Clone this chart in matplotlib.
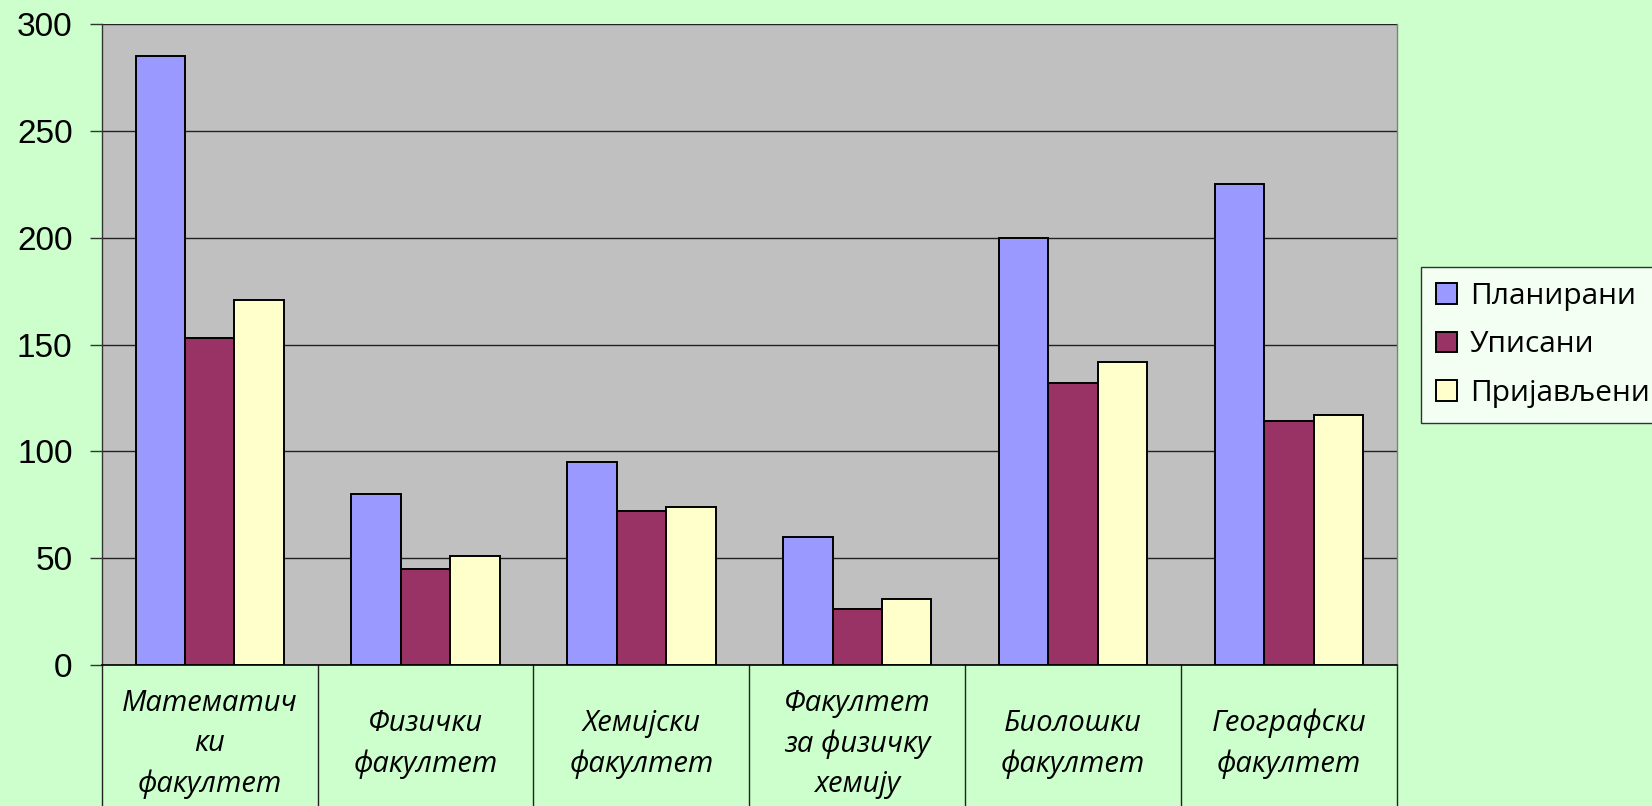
import numpy as np
import matplotlib
matplotlib.use("Agg")
import matplotlib.pyplot as plt
import matplotlib.transforms as mtransforms

# data
faculties = ["Математич\nки\nфакултет", "Физички\nфакултет", "Хемијски\nфакултет",
             "Факултет\nза физичку\nхемију", "Биолошки\nфакултет", "Географски\nфакултет"]
planirani = [285, 80, 95, 60, 200, 225]
upisani = [153, 45, 72, 26, 132, 114]
prijavljeni = [171, 51, 74, 31, 142, 117]
series_names = ["Планирани", "Уписани", "Пријављени"]
series_colors = ["#9999FF", "#993366", "#FFFFCC"]
yticks = [0, 50, 100, 150, 200, 250, 300]

label_font = ["Open Sans", "DejaVu Sans"]

fig = plt.figure(figsize=(16.52, 8.06), dpi=100)
fig.patch.set_facecolor("#CCFFCC")
ax = fig.add_axes([0.0616, 0.1749, 0.7840, 0.7953])
ax.set_facecolor("#C0C0C0")

x = np.arange(len(faculties))
w = 0.229
for i, (vals, name, col) in enumerate(zip([planirani, upisani, prijavljeni], series_names, series_colors)):
    ax.bar(x + (i - 1) * w, vals, width=w, color=col, edgecolor="black",
           linewidth=1.4, label=name, zorder=3)

ax.set_xlim(-0.5, len(faculties) - 0.5)
ax.set_ylim(0, 300)
ax.set_yticks(yticks)
ax.set_yticklabels([str(t) for t in yticks], family="Liberation Sans", fontsize=24)
ax.yaxis.grid(True, color="#222222", linewidth=1.0, zorder=1)
ax.tick_params(axis="y", length=9, width=1, color="#333333", pad=12)
ax.set_xticks([])

ax.spines["top"].set_visible(False)
ax.spines["right"].set_color("#808080")
ax.spines["right"].set_linewidth(1.0)
ax.spines["left"].set_color("#333333")
ax.spines["left"].set_linewidth(1.0)
ax.spines["bottom"].set_color("black")
ax.spines["bottom"].set_linewidth(1.2)

# category table below the axis
trans = mtransforms.blended_transform_factory(ax.transData, ax.transAxes)
for b in np.arange(len(faculties) + 1) - 0.5:
    ax.plot([b, b], [0, -0.25], color="#222222", linewidth=1.0, transform=trans, clip_on=False)
for xi, lab in zip(x, faculties):
    ax.text(xi, -0.123, lab, transform=trans, ha="center", va="center",
            fontsize=21, style="italic", family=label_font, linespacing=1.52)

leg = fig.legend(loc="upper left", bbox_to_anchor=(0.86, 0.669), frameon=True, fancybox=False,
                 prop={"family": label_font, "size": 21.5}, handlelength=0.7, handleheight=0.7,
                 handletextpad=0.45, labelspacing=0.66, borderpad=0.5, borderaxespad=0)
leg.get_frame().set_edgecolor("black")
leg.get_frame().set_linewidth(1.0)

fig.savefig("out.png", dpi=100, facecolor=fig.get_facecolor())
